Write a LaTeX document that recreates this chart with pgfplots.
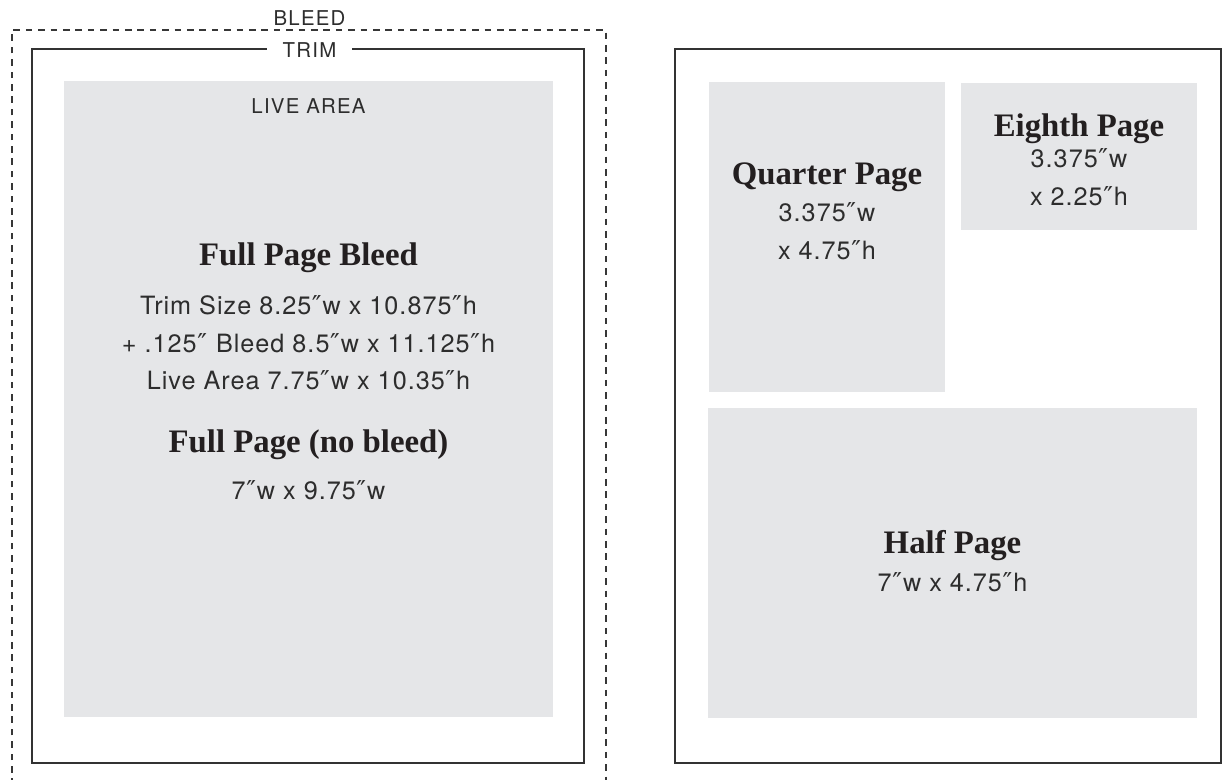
\documentclass[border=0pt]{standalone}
\usepackage{pgfplots}
\pgfplotsset{compat=1.18}
\usepackage{fontspec}
\setmainfont{TeX Gyre Heros}
\newfontfamily\sansfont[LetterSpace=4]{TeX Gyre Heros}
\newfontfamily\labelfont[LetterSpace=6]{TeX Gyre Heros}
\newfontfamily\titlefont{Liberation Serif}
\newfontfamily\primefont{DejaVu Sans}
\definecolor{boxgray}{RGB}{229,230,232}
\definecolor{linegray}{RGB}{50,50,50}
\definecolor{dashgray}{RGB}{55,55,55}
\definecolor{txt}{RGB}{35,31,32}
\definecolor{bodytxt}{RGB}{45,45,45}
\newcommand\dq{{\primefont\fontsize{13pt}{15pt}\selectfont\kern0.3pt″\kern0.5pt}}
\newcommand\ttl[1]{{\titlefont\bfseries\fontsize{16.4pt}{18pt}\selectfont\color{txt}#1}}
\newcommand\bdy[1]{{\sansfont\fontsize{12.6pt}{15pt}\selectfont\color{bodytxt}#1}}
\newcommand\lbl[1]{{\labelfont\fontsize{10.2pt}{12pt}\selectfont\color{bodytxt}#1}}
\begin{document}
\begin{tikzpicture}
\begin{axis}[
  scale only axis, width=611.5pt, height=390pt,
  xmin=0, xmax=1223, ymin=0, ymax=780,
  hide axis, clip=true,
]
% extent
\addplot[draw=none, forget plot] coordinates {(0,0) (1223,780)};
% live area and ad boxes (gray)
\addplot[fill=boxgray, draw=none, forget plot] coordinates {(64,63) (553,63) (553,699) (64,699)} -- cycle;
\addplot[fill=boxgray, draw=none, forget plot] coordinates {(709,388) (945,388) (945,698) (709,698)} -- cycle;
\addplot[fill=boxgray, draw=none, forget plot] coordinates {(961,550) (1197,550) (1197,697) (961,697)} -- cycle;
\addplot[fill=boxgray, draw=none, forget plot] coordinates {(708,62) (1197,62) (1197,372) (708,372)} -- cycle;
% bleed (dashed, open at bottom)
\addplot[draw=dashgray, line width=0.85pt, dash pattern=on 3.3pt off 2.9pt, forget plot] coordinates {(12,-5) (12,750) (606,750) (606,-5)};
% trim boxes
\addplot[draw=linegray, line width=1.1pt, forget plot] coordinates {(32,17) (584,17) (584,731.3) (32,731.3)} -- cycle;
\addplot[draw=linegray, line width=1.1pt, forget plot] coordinates {(675,17) (1221,17) (1221,731.3) (675,731.3)} -- cycle;
% labels
\node[anchor=center] at (axis cs:309.5,762) {\lbl{BLEED}};
\node[anchor=center, fill=white, inner xsep=8pt, inner ysep=2pt] at (axis cs:309.5,730) {\lbl{TRIM}};
\node[anchor=center] at (axis cs:308.5,674) {\lbl{LIVE AREA}};
% left texts
\node[anchor=base] at (axis cs:308.5,514) {\ttl{Full Page Bleed}};
\node[anchor=base] at (axis cs:308.5,465) {\bdy{Trim Size 8.25\dq w x 10.875\dq h}};
\node[anchor=base] at (axis cs:308.5,427.3) {\bdy{+ .125\dq\ Bleed 8.5\dq w x 11.125\dq h}};
\node[anchor=base] at (axis cs:308.5,390) {\bdy{Live Area 7.75\dq w x 10.35\dq h}};
\node[anchor=base] at (axis cs:308.5,327.3) {\ttl{Full Page (no bleed)}};
\node[anchor=base] at (axis cs:308.5,280) {\bdy{7\dq w x 9.75\dq w}};
% quarter
\node[anchor=base] at (axis cs:827,595) {\ttl{Quarter Page}};
\node[anchor=base] at (axis cs:827,558) {\bdy{3.375\dq w}};
\node[anchor=base] at (axis cs:827,520) {\bdy{x 4.75\dq h}};
% eighth
\node[anchor=base] at (axis cs:1079,643) {\ttl{Eighth Page}};
\node[anchor=base] at (axis cs:1079,612) {\bdy{3.375\dq w}};
\node[anchor=base] at (axis cs:1079,574) {\bdy{x 2.25\dq h}};
% half
\node[anchor=base] at (axis cs:952.5,226) {\ttl{Half Page}};
\node[anchor=base] at (axis cs:952.5,188) {\bdy{7\dq w x 4.75\dq h}};
\end{axis}
\end{tikzpicture}
\end{document}
